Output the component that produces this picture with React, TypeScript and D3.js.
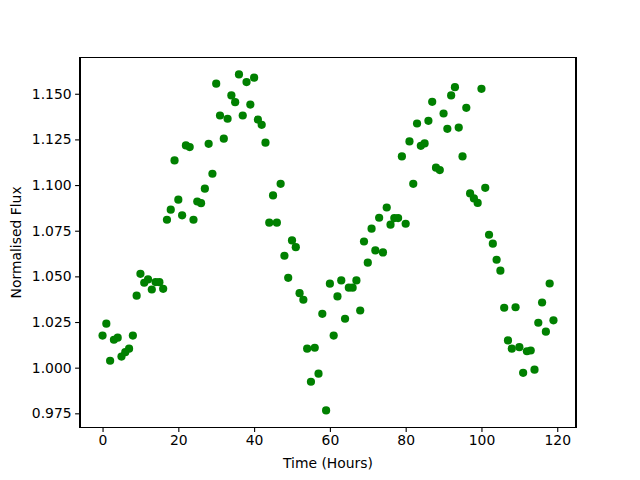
import * as d3 from "d3";
import { useEffect, useRef } from "react";

// one reading per hour
const hours = d3.range(0, 120);

const flux = [
    1.0176, 1.0241, 1.0038, 1.0153, 1.0164, 1.0061, 1.0085, 1.0104, 1.0176, 1.0394,
    1.0514, 1.0465, 1.0483, 1.0428, 1.0469, 1.0468, 1.0432, 1.0810, 1.0865, 1.1135,
    1.0920, 1.0834, 1.1217, 1.1208, 1.0810, 1.0910, 1.0901, 1.0980, 1.1226, 1.1062,
    1.1555, 1.1381, 1.1254, 1.1363, 1.1491, 1.1454, 1.1606, 1.1381, 1.1564, 1.1441,
    1.1588, 1.1358, 1.1330, 1.1232, 1.0794, 1.0943, 1.0794, 1.1007, 1.0613, 1.0492,
    1.0697, 1.0660, 1.0408, 1.0372, 1.0104, 0.9923, 1.0109, 0.9967, 1.0295, 0.9766,
    1.0460, 1.0176, 1.0390, 1.0478, 1.0268, 1.0438, 1.0438, 1.0478, 1.0313, 1.0691,
    1.0575, 1.0761, 1.0642, 1.0821, 1.0631, 1.0877, 1.0783, 1.0819, 1.0819, 1.1157,
    1.0788, 1.1239, 1.1007, 1.1337, 1.1215, 1.1228, 1.1352, 1.1456, 1.1095, 1.1082,
    1.1392, 1.1308, 1.1491, 1.1536, 1.1315, 1.1157, 1.1423, 1.0954, 1.0927, 1.0902,
    1.1527, 1.0985, 1.0728, 1.0679, 1.0591, 1.0531, 1.0328, 1.0149, 1.0104, 1.0331,
    1.0112, 0.9972, 1.0090, 1.0094, 0.9989, 1.0246, 1.0357, 1.0197, 1.0461, 1.0259,
];

const xTicks = [0, 20, 40, 60, 80, 100, 120];
const yTicks = [0.975, 1.0, 1.025, 1.05, 1.075, 1.1, 1.125, 1.15];

const W = 640, H = 480;

export default function App() {
    const ref = useRef(null);

    useEffect(() => {
        document.body.style.margin = "0";
        const svg = d3.select(ref.current);
        svg.selectAll("*").remove();

        // matplotlib default axes box
        const margin = { top: 57.6, right: 64, bottom: 52.8, left: 80 },
            width = W - margin.left - margin.right,
            height = H - margin.top - margin.bottom;

        const pad = (ext) => {
            const r = ext[1] - ext[0];
            return [ext[0] - r * 0.05, ext[1] + r * 0.05];
        };

        const xScale = d3.scaleLinear().domain(pad(d3.extent(hours))).range([0, width]);
        const yScale = d3.scaleLinear().domain(pad(d3.extent(flux))).range([height, 0]);

        const g = svg.append("g").attr("transform", "translate(" + margin.left + "," + margin.top + ")");

        const font = "'DejaVu Sans', sans-serif";

        g.selectAll("circle.pt")
            .data(hours)
            .enter()
            .append("circle")
            .attr("class", "pt")
            .attr("cx", (d) => xScale(d))
            .attr("cy", (d, i) => yScale(flux[i]))
            .attr("r", 4.1)
            .attr("fill", "#008000");

        const xAxis = g.append("g")
            .attr("transform", "translate(0," + height + ")")
            .call(d3.axisBottom(xScale).tickValues(xTicks).tickSize(4.9).tickPadding(3.5).tickSizeOuter(0));
        const yAxis = g.append("g")
            .call(d3.axisLeft(yScale).tickValues(yTicks).tickFormat(d3.format(".3f")).tickSize(4.9).tickPadding(3.5).tickSizeOuter(0));

        [xAxis, yAxis].forEach((a) => {
            a.select(".domain").remove();
            a.selectAll("line").attr("stroke", "#000").attr("stroke-width", 1.1);
            a.selectAll("text").attr("fill", "#000").style("font-size", "13.9px").style("font-family", font);
        });

        // spines
        g.append("rect")
            .attr("x", 0)
            .attr("y", 0)
            .attr("width", width)
            .attr("height", height)
            .attr("fill", "none")
            .attr("stroke", "#000")
            .attr("stroke-width", 1.1)
            .attr("shape-rendering", "crispEdges");

        g.append("text")
            .attr("x", width / 2)
            .attr("y", height + 41)
            .attr("text-anchor", "middle")
            .style("font-size", "13.9px")
            .style("font-family", font)
            .text("Time (Hours)");

        g.append("text")
            .attr("transform", "translate(" + (-59) + "," + (height / 2) + ") rotate(-90)")
            .attr("text-anchor", "middle")
            .style("font-size", "13.9px")
            .style("font-family", font)
            .text("Normalised Flux");
    }, []);

    return <svg ref={ref} width={W} height={H} style={{ display: "block", background: "#fff" }}></svg>;
}
